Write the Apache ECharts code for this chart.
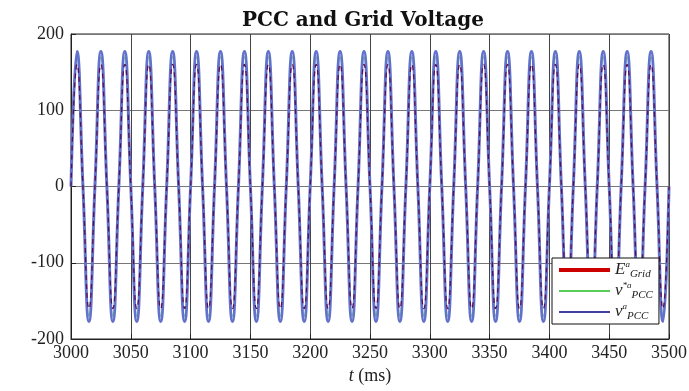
<!DOCTYPE html>
<html>
<head>
<meta charset="utf-8">
<script src="https://cdn.jsdelivr.net/npm/echarts@6/dist/echarts.min.js"></script>
<style>html,body{margin:0;padding:0;background:#fff}#c{width:689px;height:391px}</style>
</head>
<body>
<div id="c"></div>
<script>
// time samples (ms): zero crossings and extrema of each cycle
var timeMs = [3000,3005,3010,3015,3020,3025,3030,3035,3040,3045,3050,3055,3060,3065,3070,3075,3080,3085,3090,3095,
3100,3105,3110,3115,3120,3125,3130,3135,3140,3145,3150,3155,3160,3165,3170,3175,3180,3185,3190,3195,
3200,3205,3210,3215,3220,3225,3230,3235,3240,3245,3250,3255,3260,3265,3270,3275,3280,3285,3290,3295,
3300,3305,3310,3315,3320,3325,3330,3335,3340,3345,3350,3355,3360,3365,3370,3375,3380,3385,3390,3395,
3400,3405,3410,3415,3420,3425,3430,3435,3440,3445,3450,3455,3460,3465,3470,3475,3480,3485,3490,3495,3500];

var eGrid = [0,160,0,-160,0,160,0,-160,0,160,0,-160,0,160,0,-160,0,160,0,-160,
0,160,0,-160,0,160,0,-160,0,160,0,-160,0,160,0,-160,0,160,0,-160,
0,160,0,-160,0,160,0,-160,0,160,0,-160,0,160,0,-160,0,160,0,-160,
0,160,0,-160,0,160,0,-160,0,160,0,-160,0,160,0,-160,0,160,0,-160,
0,160,0,-160,0,160,0,-160,0,160,0,-160,0,160,0,-160,0,160,0,-160,0];

var vPccRef = [0,170,0,-170,0,170,0,-170,0,170,0,-170,0,170,0,-170,0,170,0,-170,
0,170,0,-170,0,170,0,-170,0,170,0,-170,0,170,0,-170,0,170,0,-170,
0,170,0,-170,0,170,0,-170,0,170,0,-170,0,170,0,-170,0,170,0,-170,
0,170,0,-170,0,170,0,-170,0,170,0,-170,0,170,0,-170,0,170,0,-170,
0,170,0,-170,0,170,0,-170,0,170,0,-170,0,170,0,-170,0,170,0,-170,0];

var vPcc = [0,177,0,-177,0,177,0,-177,0,177,0,-177,0,177,0,-177,0,177,0,-177,
0,177,0,-177,0,177,0,-177,0,177,0,-177,0,177,0,-177,0,177,0,-177,
0,177,0,-177,0,177,0,-177,0,177,0,-177,0,177,0,-177,0,177,0,-177,
0,177,0,-177,0,177,0,-177,0,177,0,-177,0,177,0,-177,0,177,0,-177,
0,177,0,-177,0,177,0,-177,0,177,0,-177,0,177,0,-177,0,177,0,-177,0];

var xTicks = [3000,3050,3100,3150,3200,3250,3300,3350,3400,3450,3500];
var yTicks = [-200,-100,0,100,200];
var titleText = 'PCC and Grid Voltage';
var names = ['E_Grid', 'v*_PCC', 'v_PCC'];

function pairs(v){ return timeMs.map(function(t,i){ return [t, v[i]]; }); }

var serif = '"Liberation Serif","DejaVu Serif",serif';
var chart = echarts.init(document.getElementById('c'), null, {renderer:'canvas'});

var richStyles = {
  m: {fontFamily: serif, fontStyle: 'italic', fontSize: 17, color: '#222', lineHeight: 20, verticalAlign: 'middle'},
  sup: {fontFamily: serif, fontStyle: 'italic', fontSize: 9, color: '#222', lineHeight: 20, verticalAlign: 'top'},
  sub: {fontFamily: serif, fontStyle: 'italic', fontSize: 11, color: '#222', lineHeight: 20, verticalAlign: 'bottom'}
};

var labelMap = {
  'E_Grid': '{m|E}{sup|a}{sub|Grid}',
  'v*_PCC': '{m|v}{sup|*a}{sub|PCC}',
  'v_PCC': '{m|v}{sup|a}{sub|PCC}'
};

var hideSym = {opacity: 0, color: 'transparent', borderWidth: 0};

chart.setOption({
  animation: false,
  backgroundColor: '#fff',
  title: {
    text: titleText, left: 358, top: 6, textAlign: 'center',
    textStyle: {fontFamily: '"DejaVu Serif",serif', fontWeight: 'bold', fontSize: 20, color: '#111'}
  },
  grid: {left: 71, right: 20, top: 34, bottom: 52, containLabel: false, outerBoundsMode: 'none',
    show: true, borderColor: '#222', borderWidth: 1, backgroundColor: '#fff'},
  xAxis: {
    type: 'value', min: xTicks[0], max: xTicks[xTicks.length-1], interval: 50,
    name: '{i|t} (ms)', nameLocation: 'middle', nameGap: 26,
    nameTextStyle: {fontFamily: serif, fontSize: 18, color: '#222',
      rich: {i: {fontFamily: serif, fontStyle: 'italic', fontSize: 18, color: '#222'}}},
    axisLine: {show: true, onZero: false, lineStyle: {color: '#222', width: 1}},
    axisTick: {show: true, inside: true, length: 5, lineStyle: {color: '#222'}},
    axisLabel: {fontFamily: serif, fontSize: 18, color: '#222', margin: 5, formatter: function(v){ return String(v); }},
    splitLine: {show: true, lineStyle: {color: '#444', width: 1}}
  },
  yAxis: {
    type: 'value', min: yTicks[0], max: yTicks[yTicks.length-1], interval: 100,
    axisLine: {show: true, lineStyle: {color: '#222', width: 1}},
    axisTick: {show: true, inside: true, length: 5, lineStyle: {color: '#222'}},
    axisLabel: {fontFamily: serif, fontSize: 18, color: '#222', margin: 7, formatter: function(v){ return String(v); }},
    splitLine: {show: true, lineStyle: {color: '#777', width: 1}}
  },
  legend: {
    orient: 'vertical', left: 552, top: 258, z: 30,
    backgroundColor: '#fff', borderColor: '#111', borderWidth: 1,
    padding: [2, 6, 2, 5], itemGap: 1, itemWidth: 51, itemHeight: 14,
    data: [
      {name: names[0], itemStyle: hideSym, lineStyle: {color: '#cc0000', width: 4, type: 'solid'}},
      {name: names[1], itemStyle: hideSym, lineStyle: {color: '#22bb22', width: 1.5, type: 'solid'}},
      {name: names[2], itemStyle: hideSym, lineStyle: {color: '#000080', width: 1.5, type: 'solid'}}
    ],
    formatter: function(n){ return labelMap[n]; },
    textStyle: {rich: richStyles}
  },
  series: [
    {name: names[1], type: 'line', data: pairs(vPccRef), symbol: 'none', smooth: 0.5,
     lineStyle: {color: '#33cc33', width: 1}, itemStyle: {color: '#33cc33'}, z: 2},
    {name: names[2], type: 'line', data: pairs(vPcc), symbol: 'none', smooth: 0.5,
     lineStyle: {color: '#6272cc', width: 3}, itemStyle: {color: '#000080'}, z: 3},
    {name: names[0], type: 'line', data: pairs(eGrid), symbol: 'none', smooth: 0.5,
     lineStyle: {color: '#5a1050', width: 1.3, type: [5, 4]}, itemStyle: {color: '#cc0000'}, z: 4}
  ]
});
</script>
</body>
</html>
